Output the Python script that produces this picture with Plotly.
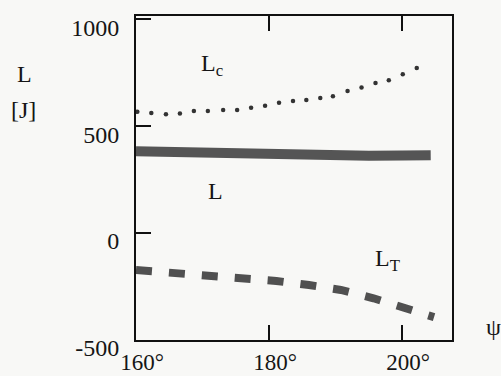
import plotly.graph_objects as go

# ---- data ----
psi_c = [160.2, 162.3, 164.5, 166.6, 168.7, 170.8, 173.1, 175.2, 177.3, 179.4, 181.5,
         183.6, 185.6, 187.7, 189.6, 191.8, 193.9, 196.0, 198.0, 200.1, 202.2]
L_c = [567, 562, 556, 559, 571, 571, 575, 575, 586, 595, 609,
       618, 622, 632, 640, 664, 681, 702, 714, 743, 772]

psi_L = [160.0, 165.0, 170.0, 175.0, 180.0, 185.0, 190.0, 195.0, 200.0, 204.3]
L_tot = [383, 379, 373, 367, 362, 359, 359, 361, 363, 364]

psi_T = [160.0, 161.5, 166.6, 171.7, 176.5, 181.1, 186.0, 190.8, 195.7, 200.5, 204.8]
L_T = [-173, -176, -186, -196, -212, -224, -243, -266, -305, -347, -393]

x_ticks = [160, 180, 200]
x_ticktext = ["160°", "180°", "200°"]
y_ticks = [-500, 0, 500, 1000]
y_ticktext = ["-500", "0", "500", "1000"]

FONT = "Liberation Serif"
BG = "#f8f8f6"

fig = go.Figure()
fig.add_trace(go.Scatter(x=psi_L, y=L_tot, mode="lines",
                         line=dict(color="#555555", width=10), hoverinfo="skip"))
fig.add_trace(go.Scatter(x=psi_T, y=L_T, mode="lines",
                         line=dict(color="#505050", width=8, dash="16px,17px"), hoverinfo="skip"))
fig.add_trace(go.Scatter(x=psi_c, y=L_c, mode="markers",
                         marker=dict(color="#333333", size=4.5, line=dict(width=0)), hoverinfo="skip"))

fig.update_layout(
    width=501, height=376,
    margin=dict(l=136, r=49, t=16, b=36, autoexpand=False),
    paper_bgcolor=BG, plot_bgcolor=BG,
    showlegend=False,
    font=dict(family=FONT, size=24, color="#151515"),
)
fig.update_xaxes(range=[160, 207.5], tickvals=x_ticks, ticktext=x_ticktext,
                 showline=True, linecolor="#111", linewidth=2, mirror="ticks",
                 ticks="inside", ticklen=15, tickwidth=2, tickcolor="#111",
                 showgrid=False, zeroline=False, ticklabelshift=6, ticklabelstandoff=0,
                 automargin=False, tickfont=dict(family=FONT, size=23))
fig.update_yaxes(range=[-500, 1015], tickvals=y_ticks, ticktext=y_ticktext,
                 showline=True, linecolor="#111", linewidth=2, mirror=True,
                 ticks="inside", ticklen=15, tickwidth=2, tickcolor="#111",
                 showgrid=False, zeroline=False, ticklabelshift=8, ticklabelstandoff=10,
                 automargin=False, tickfont=dict(family=FONT, size=24))

ann = dict(showarrow=False, font=dict(family=FONT, size=24, color="#151515"))
fig.add_annotation(x=169.5, y=787, xref="x", yref="y", text="L<sub>c</sub>",
                   xanchor="left", yanchor="middle", **ann)
fig.add_annotation(x=172.0, y=196, xref="x", yref="y", text="L",
                   xanchor="center", yanchor="middle", **ann)
fig.add_annotation(x=195.6, y=-126, xref="x", yref="y", text="L<sub>T</sub>",
                   xanchor="left", yanchor="middle", **ann)
fig.add_annotation(x=-0.354, y=0.821, xref="paper", yref="paper", text="L",
                   xanchor="center", yanchor="middle", **ann)
fig.add_annotation(x=-0.357, y=0.710, xref="paper", yref="paper", text="[J]",
                   xanchor="center", yanchor="middle", **ann)
fig.add_annotation(x=1.13, y=0.04, xref="paper", yref="paper", text="ψ",
                   xanchor="center", yanchor="middle", **ann)

fig.write_html(
    "out.html",
    config={"displayModeBar": False},
    post_script="document.body.style.margin='0';document.body.style.padding='0';"
                "document.body.style.background='" + BG + "';",
)
